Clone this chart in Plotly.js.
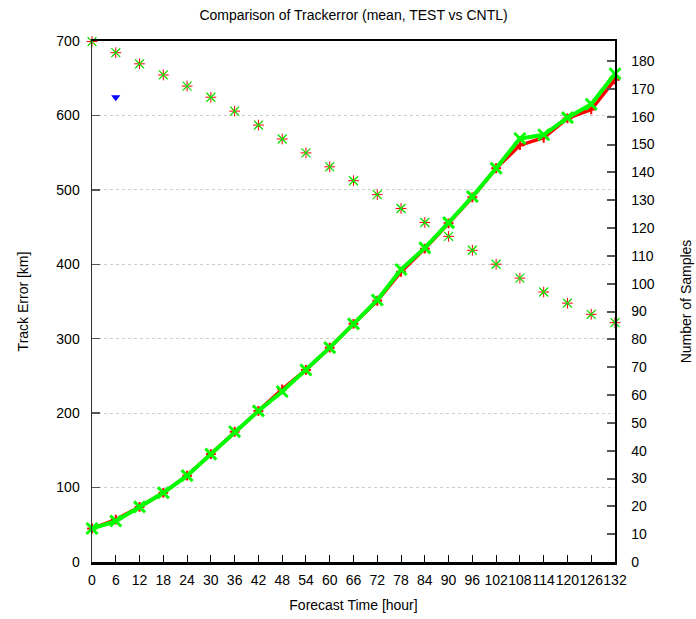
<!DOCTYPE html>
<html>
<head>
<meta charset="utf-8">
<script src="https://cdn.plot.ly/plotly-3.0.1.min.js"></script>
<style>html,body{margin:0;padding:0;background:#fff;}#chart{width:696px;height:619px;}</style>
</head>
<body>
<div id="chart"></div>
<script>
var hours = [0,6,12,18,24,30,36,42,48,54,60,66,72,78,84,90,96,102,108,114,120,126,132];
var errTEST = [45,57,74,93,116,145,175,203,232,258,288,320,351,390,421,455,490,529,560,570,596,608,648];
var errCNTL = [45,55,74,93,116,145,175,203,229,258,288,320,352,393,422,456,491,529,569,574,597,615,656];
var samplesTEST = [187,183,179,175,171,167,162,157,152,147,142,137,132,127,122,117,112,107,102,97,93,89,86];
var samplesCNTL = [187,183,179,175,171,167,162,157,152,147,142,137,132,127,122,117,112,107,102,97,93,89,86];
var extraHours = [6];
var extraSamples = [167];
var xTicks = hours;
var yLeftTicks = [0,100,200,300,400,500,600,700];
var yRightTicks = [0,10,20,30,40,50,60,70,80,90,100,110,120,130,140,150,160,170,180];

var font = {family: 'Liberation Sans, Arial, sans-serif', size: 14, color: '#000'};

var traces = [
  {x: hours, y: samplesTEST, yaxis: 'y2', mode: 'markers', type: 'scatter', cliponaxis: false,
   marker: {symbol: 'asterisk-open', size: 9, color: '#ff0000', line: {color: '#ff6060', width: 1}}},
  {x: hours, y: samplesCNTL, yaxis: 'y2', mode: 'markers', type: 'scatter', cliponaxis: false,
   marker: {symbol: 'x-thin-open', size: 9, color: '#00ee00', line: {color: '#00ee00', width: 1.2}}},
  {x: extraHours, y: extraSamples, yaxis: 'y2', mode: 'markers', type: 'scatter', cliponaxis: false,
   marker: {symbol: 'triangle-down', size: 8, color: '#0000ff'}},
  {x: hours, y: errTEST, mode: 'lines+markers', type: 'scatter', cliponaxis: false,
   line: {color: '#ff0000', width: 3.5},
   marker: {symbol: 'cross-thin-open', size: 7, color: '#ff0000', line: {color: '#ff0000', width: 2}}},
  {x: hours, y: errCNTL, mode: 'lines+markers', type: 'scatter', cliponaxis: false,
   line: {color: '#00ff00', width: 4},
   marker: {symbol: 'x-thin-open', size: 11, color: '#00ff00', line: {color: '#00ff00', width: 3}}}
];

var layout = {
  width: 696, height: 619,
  margin: {l: 92, r: 81, t: 41, b: 57},
  paper_bgcolor: '#fff', plot_bgcolor: '#fff',
  showlegend: false,
  font: font,
  title: {text: 'Comparison of Trackerror (mean, TEST vs CNTL)', font: {family: font.family, size: 14, color: '#000'},
          x: 0.508, xanchor: 'center', y: 0.975, yanchor: 'middle'},
  xaxis: {
    range: [0, 132], tickmode: 'array', tickvals: xTicks, ticktext: xTicks.map(String),
    tickangle: 0, ticks: 'inside', ticklen: 7, tickwidth: 1, tickcolor: '#000',
    showline: true, linecolor: '#000', linewidth: 2.5, mirror: true,
    showgrid: false, zeroline: false, tickfont: font, ticklabelstandoff: 4,
    title: {text: 'Forecast Time [hour]', font: font, standoff: 13}
  },
  yaxis: {
    range: [0, 700], tickmode: 'array', tickvals: yLeftTicks, ticktext: yLeftTicks.map(String),
    ticks: 'inside', ticklen: 8, tickwidth: 1.5, tickcolor: '#555',
    showline: true, linecolor: '#333', linewidth: 1.5,
    showgrid: true, gridcolor: '#cccccc', griddash: 'dot', gridwidth: 1,
    zeroline: false, tickfont: font, ticklabelstandoff: 8,
    title: {text: 'Track Error [km]', font: font, standoff: 24}
  },
  yaxis2: {
    overlaying: 'y', side: 'right', range: [0, 187.2], tickmode: 'array', tickvals: yRightTicks,
    ticktext: yRightTicks.map(String),
    ticks: 'inside', ticklen: 8, tickwidth: 2, tickcolor: '#555',
    showline: true, linecolor: '#000', linewidth: 1.5,
    showgrid: false, zeroline: false, tickfont: font, ticklabelstandoff: 12,
    title: {text: 'Number of Samples', font: font, standoff: 27}
  }
};

Plotly.newPlot('chart', traces, layout, {displayModeBar: false, staticPlot: true});
</script>
</body>
</html>
